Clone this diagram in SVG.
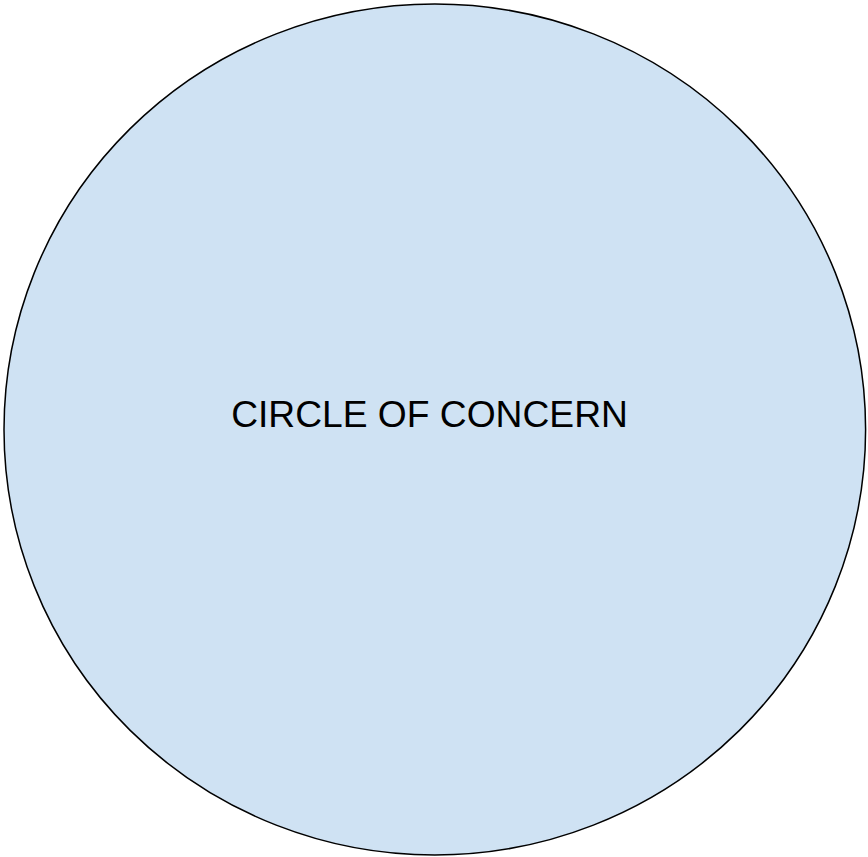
<svg xmlns="http://www.w3.org/2000/svg" width="868" height="857" viewBox="0 0 868 857">
<style>
.node{fill:#cfe2f3;stroke:#000;stroke-width:1.5}
.label{font-family:"Liberation Sans",Arial,sans-serif;font-size:37.2px;fill:#000;text-anchor:middle}
</style>
<rect width="868" height="857" fill="#fff"/>
<g id="circle-of-concern">
<ellipse class="node" cx="434.8" cy="429.5" rx="430.8" ry="425.5"/>
<text class="label" x="429.5" y="427">CIRCLE OF CONCERN</text>
</g>
<g id="connectors"/>
</svg>
